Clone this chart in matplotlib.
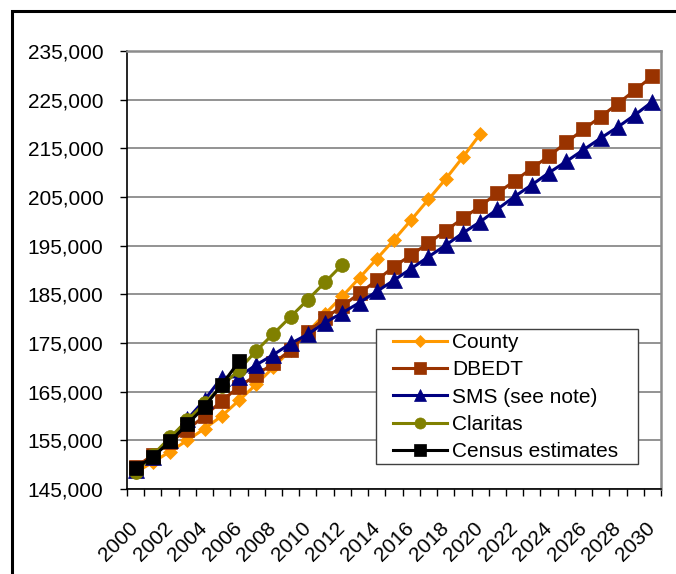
import matplotlib
matplotlib.use("Agg")
import matplotlib.pyplot as plt
from matplotlib.patches import Rectangle
from matplotlib.ticker import FuncFormatter, FixedLocator

plt.rcParams['font.family'] = ['Liberation Sans', 'DejaVu Sans']

years = list(range(2000, 2031))

county = [148400, 150500, 152700, 155000, 157400, 160000, 163200, 166500, 170000,
          173600, 177300, 181000, 184600, 188400, 192300, 196200, 200300, 204500,
          208700, 213200, 217900]
dbedt = [149500, 152000, 154600, 157200, 160000, 163100, 166000, 168400, 170800,
         173600, 177300, 180100, 182600, 185200, 187900, 190700, 193100, 195500,
         198100, 200600, 203100, 205800, 208300, 210900, 213400, 216200, 218900,
         221500, 224200, 227000, 229800]
sms = [148900, 151600, 155000, 159300, 163300, 167900, 168100, 170500, 172600,
       174900, 176800, 179200, 181200, 183300, 185600, 187900, 190300, 192700,
       195100, 197600, 199900, 202500, 205100, 207500, 210000, 212300, 214700,
       217100, 219400, 221900, 224600]
claritas = [148500, 152000, 155600, 159100, 162600, 166100, 169500, 173400, 176900,
            180400, 183900, 187500, 191100]
census = [149300, 151600, 154800, 158300, 161900, 166400, 171200]

series = [
    ("County", county, "#FF9900", "D", 7.5),
    ("DBEDT", dbedt, "#993300", "s", 10),
    ("SMS (see note)", sms, "#000080", "^", 11),
    ("Claritas", claritas, "#808000", "o", 10),
    ("Census estimates", census, "#000000", "s", 10),
]

W, H = 676, 574
fig = plt.figure(figsize=(W / 100, H / 100), dpi=100)
ax = fig.add_axes([127 / W, 1 - 489 / H, (661 - 127) / W, (489 - 51) / H])

for i, (name, vals, color, marker, ms) in enumerate(series):
    ax.plot(range(len(vals)), vals, color=color, lw=2.2, marker=marker, ms=ms,
            markerfacecolor=color, markeredgecolor=color, markeredgewidth=0.5,
            label=name, zorder=3 + i, clip_on=False)

ax.set_xlim(-0.5, len(years) - 0.5)
ax.set_ylim(145000, 235000)

ax.set_yticks(range(145000, 235001, 10000))
ax.yaxis.set_major_formatter(FuncFormatter(lambda v, p: f"{int(v):,}"))
ax.tick_params(axis='y', labelsize=15, length=5, width=1, pad=12, direction='out')

major = list(range(0, len(years), 2))
ax.xaxis.set_major_locator(FixedLocator(major))
ax.set_xticklabels([str(years[i]) for i in major], rotation=45, ha='right',
                   va='center', rotation_mode='anchor')
ax.xaxis.set_minor_locator(FixedLocator([k - 0.5 for k in range(len(years) + 1)]))
ax.tick_params(axis='x', which='major', labelsize=15, length=0, pad=26)
ax.tick_params(axis='x', which='minor', length=5, width=1, direction='out')

ax.grid(axis='y', color='#808080', lw=1.2)
ax.set_axisbelow(True)
for side in ('top', 'right'):
    ax.spines[side].set_color('#8c8c8c')
    ax.spines[side].set_linewidth(1.8)
for side in ('left', 'bottom'):
    ax.spines[side].set_color('black')
    ax.spines[side].set_linewidth(1.2)

# legend frame drawn at fixed pixel position, entries placed inside it
box = Rectangle((376 / W, 1 - 464 / H), (638 - 376) / W, (464 - 329) / H,
                transform=fig.transFigure, facecolor='white', edgecolor='#404040',
                lw=1.0, zorder=19)
ax.add_artist(box)
box.set_clip_on(False)

leg = ax.legend(loc='upper left', bbox_to_anchor=(393 / W, 1 - 333 / H),
                bbox_transform=fig.transFigure, fontsize=15, frameon=False,
                borderpad=0, handlelength=2.6, handletextpad=0.25,
                labelspacing=0.4, borderaxespad=0, markerscale=0.8)
leg.set_zorder(20)

# outer chart border
fig.add_artist(Rectangle((12 / W, -0.05), 1.1, 1 - 11 / H + 0.05, transform=fig.transFigure,
                         fill=False, edgecolor='black', lw=2.2, clip_on=False))

fig.savefig("out.png", dpi=100, facecolor='white')
